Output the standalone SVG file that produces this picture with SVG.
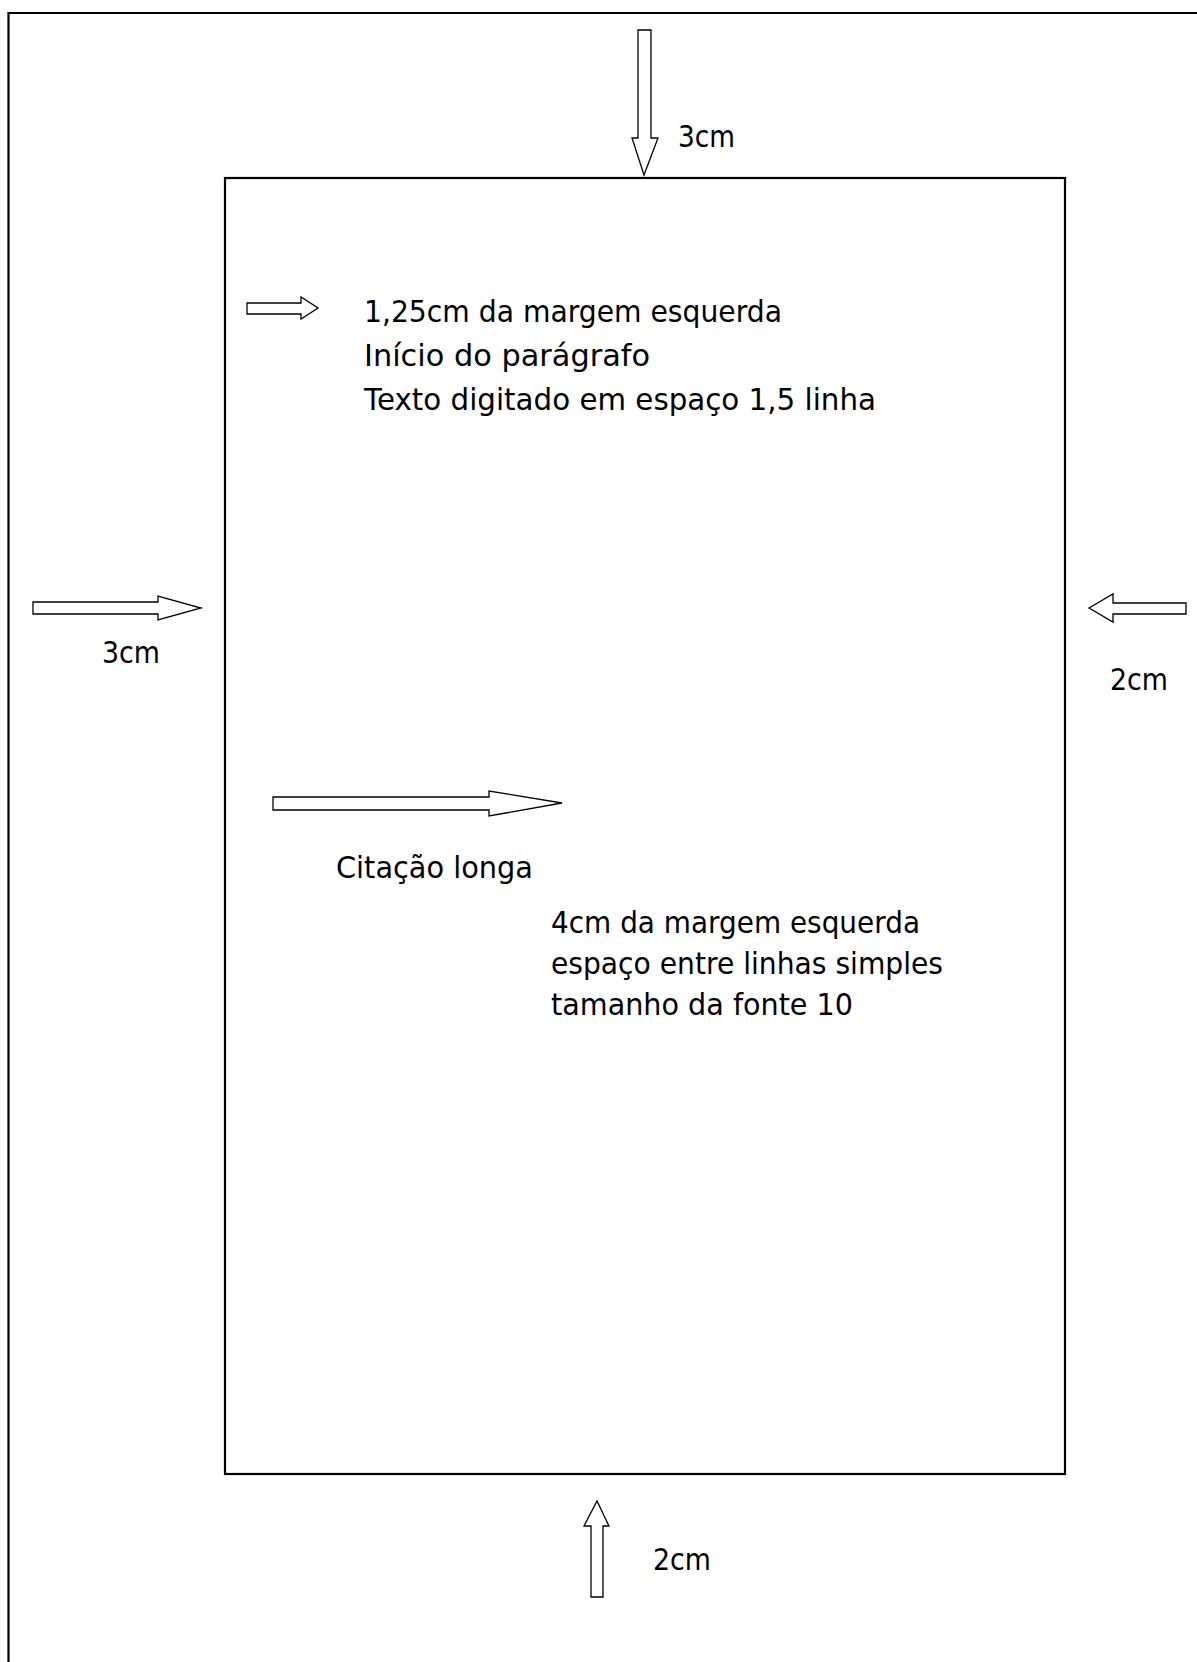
<svg xmlns="http://www.w3.org/2000/svg" width="1197" height="1662" viewBox="0 0 1197 1662">
<style>
.frame{fill:none;stroke:#000;stroke-width:2.2}
.arrow{fill:#fff;stroke:#000;stroke-width:1.3;stroke-linejoin:miter}
.t{font-family:"DejaVu Sans","Liberation Sans",sans-serif;font-size:31px;fill:#000}
</style>
<rect width="1197" height="1662" fill="#fff"/>
<g id="outer-frame"><path class="frame" d="M8.5 1662 V13 H1197"/></g>
<g id="page"><rect class="frame" x="225" y="178" width="840" height="1296"/></g>
<g id="connectors">
<polygon class="arrow" points="638,30 651,30 651,138 658,138 644,175 632,138 638,138"/>
<polygon class="arrow" points="33,602 158,602 158,596 201,608 158,620 158,614 33,614"/>
<polygon class="arrow" points="1089,608 1113,594 1113,603 1186,603 1186,614 1113,614 1113,622"/>
<polygon class="arrow" points="597,1501 609,1526 603,1526 603,1597 591,1597 591,1526 584,1526"/>
<polygon class="arrow" points="247,303 301,303 301,297 318,308 301,319 301,314 247,314"/>
<polygon class="arrow" points="273,797 489,797 489,791 562,803 489,816 489,810 273,810"/>
</g>
<g id="label-top"><text class="t" x="678" y="147" textLength="57" lengthAdjust="spacingAndGlyphs">3cm</text></g>
<g id="label-left"><text class="t" x="102" y="663" textLength="58" lengthAdjust="spacingAndGlyphs">3cm</text></g>
<g id="label-right"><text class="t" x="1110" y="690" textLength="58" lengthAdjust="spacingAndGlyphs">2cm</text></g>
<g id="label-bottom"><text class="t" x="653" y="1570" textLength="58" lengthAdjust="spacingAndGlyphs">2cm</text></g>
<g id="paragraph">
<text class="t" x="364" y="322" textLength="418" lengthAdjust="spacingAndGlyphs">1,25cm da margem esquerda</text>
<text class="t" x="364" y="366" textLength="286" lengthAdjust="spacingAndGlyphs">Início do parágrafo</text>
<text class="t" x="364" y="410" textLength="512" lengthAdjust="spacingAndGlyphs">Texto digitado em espaço 1,5 linha</text>
</g>
<g id="citacao"><text class="t" x="336" y="878" textLength="197" lengthAdjust="spacingAndGlyphs">Citação longa</text></g>
<g id="citacao-rules">
<text class="t" x="551" y="933" textLength="369" lengthAdjust="spacingAndGlyphs">4cm da margem esquerda</text>
<text class="t" x="551" y="974" textLength="392" lengthAdjust="spacingAndGlyphs">espaço entre linhas simples</text>
<text class="t" x="551" y="1015" textLength="302" lengthAdjust="spacingAndGlyphs">tamanho da fonte 10</text>
</g>
</svg>
